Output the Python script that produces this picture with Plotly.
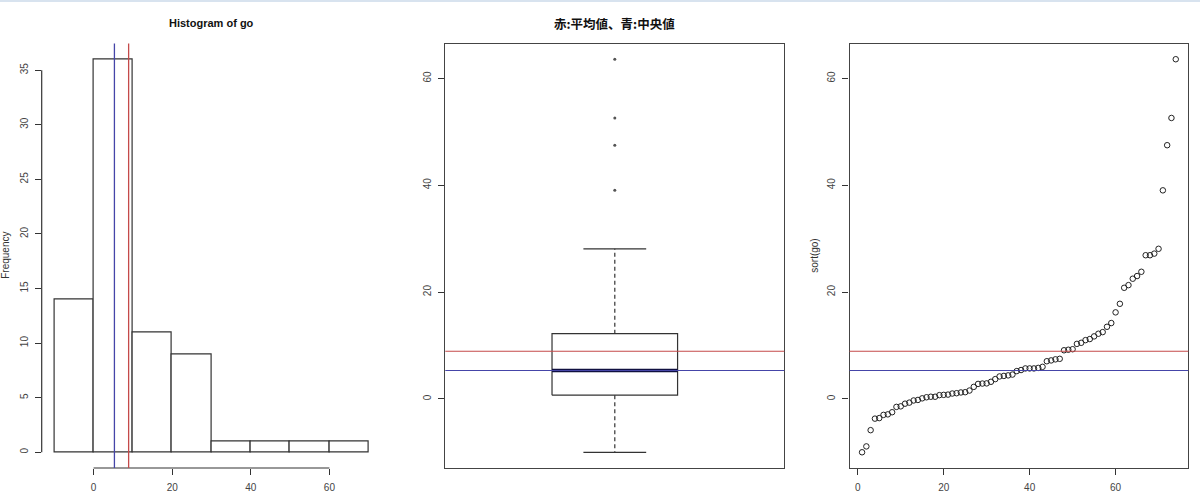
import numpy as np
import plotly.graph_objects as go

# ---- data (sorted values of "go") ----
go_values = [
    -10.0, -8.9, -5.86, -3.6, -3.7, -2.9, -3.0, -2.5, -1.4, -1.5,
    -0.9, -0.7, -0.3, -0.2, 0.1, 0.4, 0.3, 0.4, 0.7, 0.75,
    0.8, 1.06, 1.0, 1.2, 1.25, 1.56, 2.25, 2.9, 2.87, 2.8,
    3.2, 3.7, 4.2, 4.3, 4.4, 4.55, 5.2, 5.4, 5.7, 5.7,
    5.7, 5.8, 6.0, 7.05, 7.2, 7.4, 7.5, 9.1, 9.2, 9.3,
    10.3, 10.5, 11.0, 11.2, 11.7, 12.2, 12.5, 13.5, 14.2, 16.2,
    17.8, 20.8, 21.3, 22.5, 23.0, 23.8, 26.9, 26.9, 27.2, 28.1,
    39.05, 47.5, 52.6, 63.6,
]
hist_start = -10
hist_end = 70
hist_size = 10
hist_x_ticks = [0, 20, 40, 60]
hist_y_ticks = [0, 5, 10, 15, 20, 25, 30, 35]
value_ticks = [0, 20, 40, 60]
index_ticks = [0, 20, 40, 60]

title_hist = "Histogram of go"
title_box = "赤:平均値、青:中央値"
ylabel_hist = "Frequency"
ylabel_sort = "sort(go)"

# ---- statistics ----
x = np.array(go_values, dtype=float)
xs = np.sort(x)
n = len(xs)
mean_v = float(np.mean(xs))
median_v = float(np.median(xs))

# R fivenum
n4 = np.floor((n + 3) / 2) / 2
d = np.array([1, n4, (n + 1) / 2, n + 1 - n4, n])
fn = 0.5 * (xs[np.floor(d).astype(int) - 1] + xs[np.ceil(d).astype(int) - 1])
q1, med, q3 = fn[1], fn[2], fn[3]
iqr = q3 - q1
upper_w = xs[xs <= q3 + 1.5 * iqr].max()
lower_w = xs[xs >= q1 - 1.5 * iqr].min()
outliers = xs[(xs > q3 + 1.5 * iqr) | (xs < q1 - 1.5 * iqr)]

RED = "#c44a4a"
BLUE = "#4545a8"
INK = "#333333"
FONT = "Liberation Sans, Arial, sans-serif"

# extended ranges (R style 4%)
def ext(lo, hi):
    r = hi - lo
    return [lo - 0.04 * r, hi + 0.04 * r]

counts, _ = np.histogram(xs, bins=np.arange(hist_start, hist_end + hist_size, hist_size))
hist_xr = ext(hist_start, hist_end)
hist_yr = ext(0, counts.max())
val_r = ext(xs.min(), xs.max())
idx_r = ext(1, n)
box_xr = ext(0.5, 1.5)

fig = go.Figure()

# --- Panel 1: histogram ---
fig.add_trace(go.Histogram(
    x=xs, xbins=dict(start=hist_start, end=hist_end, size=hist_size),
    marker=dict(color="white", line=dict(color=INK, width=1.2)),
    xaxis="x", yaxis="y", showlegend=False, hoverinfo="skip"))

# --- Panel 2: boxplot drawn from computed statistics ---
bx0, bx1 = 0.8, 1.2
sx0, sx1 = 0.9, 1.1
fig.add_trace(go.Scatter(
    x=[bx0, bx1, bx1, bx0, bx0], y=[q1, q1, q3, q3, q1], mode="lines",
    line=dict(color=INK, width=1.2), xaxis="x2", yaxis="y2",
    showlegend=False, hoverinfo="skip"))
fig.add_trace(go.Scatter(
    x=[1, 1, None, 1, 1], y=[q3, upper_w, None, q1, lower_w], mode="lines",
    line=dict(color=INK, width=1.2, dash="4px,3px"), xaxis="x2", yaxis="y2",
    showlegend=False, hoverinfo="skip"))
fig.add_trace(go.Scatter(
    x=[sx0, sx1, None, sx0, sx1], y=[upper_w, upper_w, None, lower_w, lower_w],
    mode="lines", line=dict(color=INK, width=1.2), xaxis="x2", yaxis="y2",
    showlegend=False, hoverinfo="skip"))
fig.add_trace(go.Scatter(
    x=[bx0, bx1], y=[med, med], mode="lines",
    line=dict(color="#101040", width=3.4), xaxis="x2", yaxis="y2",
    showlegend=False, hoverinfo="skip"))
fig.add_trace(go.Scatter(
    x=[1] * len(outliers), y=outliers, mode="markers",
    marker=dict(color="#555555", size=3), xaxis="x2", yaxis="y2",
    showlegend=False, hoverinfo="skip"))

# --- Panel 3: sorted values ---
fig.add_trace(go.Scatter(
    x=np.arange(1, n + 1), y=xs, mode="markers",
    marker=dict(symbol="circle-open", size=5.5, color="#222222",
                line=dict(width=1)),
    xaxis="x3", yaxis="y3", showlegend=False, hoverinfo="skip"))

ytop, ybot = 1 - 43.5 / 500, 1 - 468 / 500
dom1 = [41.7 / 1200, 381.3 / 1200]
dom2 = [445.3 / 1200, 784.3 / 1200]
dom3 = [849.5 / 1200, 1188.3 / 1200]

tickfont = dict(family=FONT, size=10, color="#444444")
common_ax = dict(showgrid=False, zeroline=False, ticks="outside", ticklen=6,
                 tickcolor=INK, tickwidth=1, tickfont=tickfont)
box_ax = dict(common_ax, showline=True, linecolor="#444444", linewidth=1.2,
              mirror=True)

fig.update_layout(
    width=1200, height=500,
    margin=dict(l=0, r=0, t=0, b=0),
    paper_bgcolor="white", plot_bgcolor="white",
    bargap=0,
    xaxis=dict(common_ax, domain=dom1, range=hist_xr, tickvals=hist_x_ticks,
               showline=False, anchor="y", ticklabelstandoff=4),
    yaxis=dict(common_ax, domain=[ybot, ytop], range=hist_yr,
               tickvals=hist_y_ticks, showline=False, anchor="x",
               tickangle=-90, ticklabelstandoff=3),
    xaxis2=dict(box_ax, domain=dom2, range=box_xr, showticklabels=False,
                ticks="", anchor="y2"),
    yaxis2=dict(box_ax, domain=[ybot, ytop], range=val_r, tickvals=value_ticks,
                anchor="x2", tickangle=-90, ticklabelstandoff=3),
    xaxis3=dict(box_ax, domain=dom3, range=idx_r, tickvals=index_ticks,
                anchor="y3", ticklabelstandoff=4),
    yaxis3=dict(box_ax, domain=[ybot, ytop], range=val_r, tickvals=value_ticks,
                anchor="x3", tickangle=-90, ticklabelstandoff=3),
)

shapes = []
# histogram axis lines spanning tick range only
shapes.append(dict(type="line", xref="x", yref="y domain",
                   x0=min(hist_x_ticks), x1=max(hist_x_ticks), y0=0, y1=0,
                   line=dict(color=INK, width=1.2)))
shapes.append(dict(type="line", xref="x domain", yref="y",
                   x0=0, x1=0, y0=min(hist_y_ticks), y1=max(hist_y_ticks),
                   line=dict(color=INK, width=1.2)))
# mean / median lines
shapes.append(dict(type="line", xref="x", yref="y domain", x0=median_v, x1=median_v,
                   y0=0, y1=1, line=dict(color=BLUE, width=1.3)))
shapes.append(dict(type="line", xref="x", yref="y domain", x0=mean_v, x1=mean_v,
                   y0=0, y1=1, line=dict(color=RED, width=1.3)))
for xr_, yr_ in (("x2 domain", "y2"), ("x3 domain", "y3")):
    shapes.append(dict(type="line", xref=xr_, yref=yr_, x0=0, x1=1,
                       y0=mean_v, y1=mean_v, line=dict(color=RED, width=1.1)))
    shapes.append(dict(type="line", xref=xr_, yref=yr_, x0=0, x1=1,
                       y0=median_v, y1=median_v, line=dict(color=BLUE, width=1.1)))
# window top band
shapes.append(dict(type="rect", xref="paper", yref="paper", x0=0, x1=1,
                   y0=1 - 2 / 500, y1=1, line=dict(width=0), fillcolor="#d8e3ef"))
fig.update_layout(shapes=shapes)

ann = []
ann.append(dict(text="<b>" + title_hist + "</b>", x=(dom1[0] + dom1[1]) / 2,
                y=1 - 23 / 500, xref="paper", yref="paper", showarrow=False,
                xanchor="center", yanchor="middle",
                font=dict(family=FONT, size=11, color="#111111")))
ann.append(dict(text="<b>" + title_box + "</b>", x=(dom2[0] + dom2[1]) / 2,
                y=1 - 23 / 500, xref="paper", yref="paper", showarrow=False,
                xanchor="center", yanchor="middle",
                font=dict(family="Noto Sans CJK JP", size=12.5, color="#111111")))
ann.append(dict(text=ylabel_hist, x=6 / 1200, y=(ytop + ybot) / 2, xref="paper",
                yref="paper", showarrow=False, textangle=-90, xanchor="center",
                yanchor="middle",
                font=dict(family=FONT, size=10, color="#333333")))
ann.append(dict(text=ylabel_sort, x=815 / 1200, y=(ytop + ybot) / 2, xref="paper",
                yref="paper", showarrow=False, textangle=-90, xanchor="center",
                yanchor="middle",
                font=dict(family=FONT, size=10, color="#333333")))
fig.update_layout(annotations=ann)

fig.write_html("out.html", config={"displayModeBar": False},
               post_script="document.body.style.margin='0';document.body.style.overflow='hidden';")
